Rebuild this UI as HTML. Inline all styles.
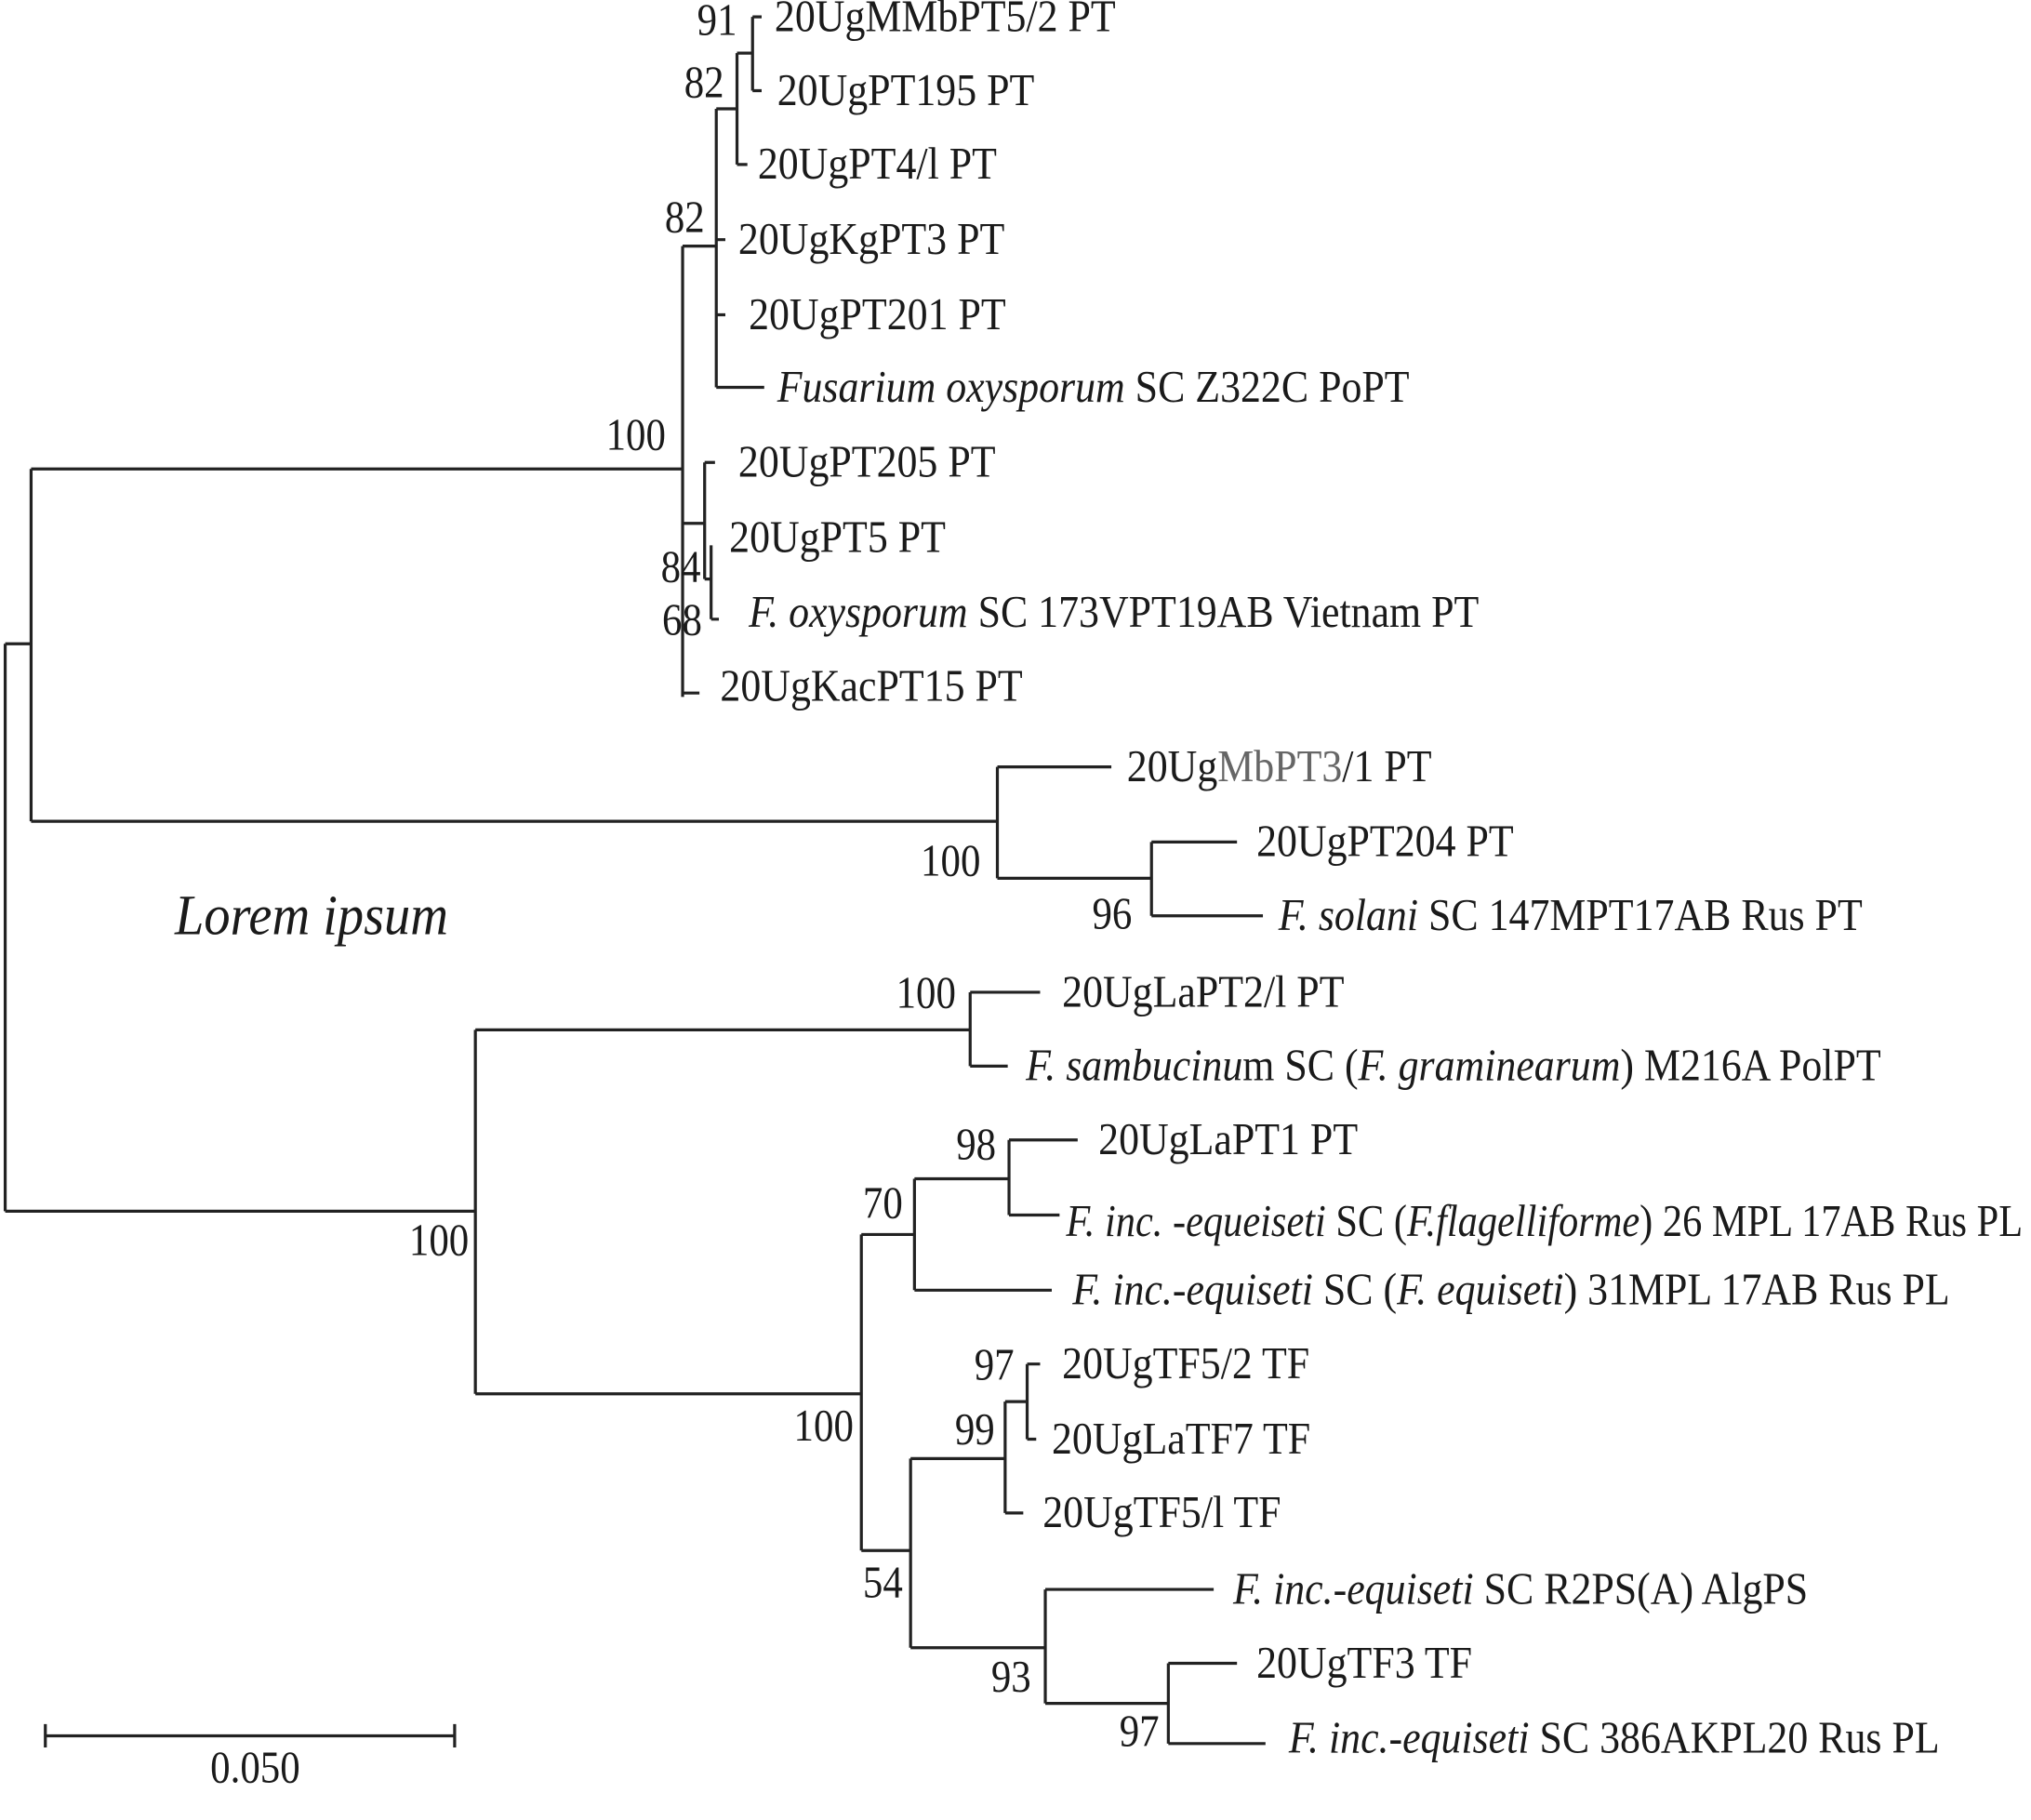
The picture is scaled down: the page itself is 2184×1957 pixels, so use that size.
<!DOCTYPE html>
<html><head><meta charset="utf-8"><style>
html,body{margin:0;padding:0;background:#fff;}
svg{display:block;}
text{font-family:"Liberation Serif",serif;font-size:35px;fill:#1a1a1a;}
.i{font-style:italic;}
</style></head><body>
<svg width="2184" height="1957" viewBox="0 0 1568 1405" preserveAspectRatio="none" xmlns="http://www.w3.org/2000/svg">
<g stroke="#222" stroke-width="2.3" fill="none">
<path d="M4 497V935M4 497H24M24 362V634M4 935H367"/>
<path d="M24 362H527M527 190V538M527 190H553M553 84V299M553 84H569M569 41V127M569 41H581M581 13V70M581 13H588M581 70H588M569 127H577M553 185H560M553 243H560M553 299H590"/>
<path d="M527 404H544M544 357V447M544 357H552M544 447H549M549 421V478M549 478H555M527 535H540"/>
<path d="M24 634H770M770 592V678M770 592H858M770 678H889M889 650V707M889 650H955M889 707H975"/>
<path d="M367 795V1076M367 795H749M749 766V823M749 766H803M749 823H778"/>
<path d="M367 1076H665M665 953V1197M665 953H706M706 910V996M706 910H779M779 880V938M779 880H832M779 938H818M706 996H812"/>
<path d="M665 1197H703M703 1126V1272M703 1126H776M776 1082V1168M776 1082H793M793 1053V1111M793 1053H803M793 1111H800M776 1168H790"/>
<path d="M703 1272H807M807 1227V1315M807 1227H937M807 1315H902M902 1284V1346M902 1284H955M902 1346H977"/>
<path d="M35 1340H351M35 1331V1349M351 1331V1349"/>
</g>
<g>
<text transform="translate(598 24) scale(.9 1)">20UgMMbPT5/2 PT</text>
<text transform="translate(600 81) scale(.9 1)">20UgPT195 PT</text>
<text transform="translate(585 138) scale(.9 1)">20UgPT4/l PT</text>
<text transform="translate(570 196) scale(.9 1)">20UgKgPT3 PT</text>
<text transform="translate(578 254) scale(.9 1)">20UgPT201 PT</text>
<text transform="translate(600 310) scale(.9 1)"><tspan class="i">Fusarium oxysporum</tspan> SC Z322C PoPT</text>
<text transform="translate(570 368) scale(.9 1)">20UgPT205 PT</text>
<text transform="translate(563 426) scale(.9 1)">20UgPT5 PT</text>
<text transform="translate(578 484) scale(.9 1)"><tspan class="i">F. oxysporum</tspan> SC 173VPT19AB Vietnam PT</text>
<text transform="translate(556 541) scale(.9 1)">20UgKacPT15 PT</text>
<text transform="translate(870 603) scale(.9 1)">20Ug<tspan fill="#666">MbPT3</tspan>/1 PT</text>
<text transform="translate(970 661) scale(.9 1)">20UgPT204 PT</text>
<text transform="translate(987 718) scale(.9 1)"><tspan class="i">F. solani</tspan> SC 147MPT17AB Rus PT</text>
<text transform="translate(820 777) scale(.9 1)">20UgLaPT2/l PT</text>
<text transform="translate(792 834) scale(.9 1)"><tspan class="i">F.  sambucinu</tspan>m SC (<tspan class="i">F. graminearum</tspan>) M216A  PolPT</text>
<text transform="translate(848 891) scale(.9 1)">20UgLaPT1 PT</text>
<text transform="translate(823 954) scale(.87 1)"><tspan class="i">F. inc. -equeiseti</tspan> SC (<tspan class="i">F.flagelliforme</tspan>) 26 MPL 17AB Rus PL</text>
<text transform="translate(828 1007) scale(.9 1)"><tspan class="i">F. inc.-equiseti</tspan> SC (<tspan class="i">F. equiseti</tspan>) 31MPL  17AB  Rus PL</text>
<text transform="translate(820 1064) scale(.9 1)">20UgTF5/2 TF</text>
<text transform="translate(812 1122) scale(.9 1)">20UgLaTF7 TF</text>
<text transform="translate(805 1179) scale(.9 1)">20UgTF5/l TF</text>
<text transform="translate(952 1238) scale(.9 1)"><tspan class="i">F. inc.-equiseti</tspan>  SC R2PS(A) AlgPS</text>
<text transform="translate(970 1295) scale(.9 1)">20UgTF3 TF</text>
<text transform="translate(995 1353) scale(.9 1)"><tspan class="i">F.  inc.-equiseti</tspan> SC 386AKPL20 Rus PL</text>
</g>
<g text-anchor="end">
<text transform="translate(569 27) scale(.88 1)">91</text>
<text transform="translate(559 75) scale(.88 1)">82</text>
<text transform="translate(544 179) scale(.88 1)">82</text>
<text transform="translate(514 347) scale(.88 1)">100</text>
<text transform="translate(541 449) scale(.88 1)">84</text>
<text transform="translate(542 490) scale(.88 1)">68</text>
<text transform="translate(757 676) scale(.88 1)">100</text>
<text transform="translate(874 717) scale(.88 1)">96</text>
<text transform="translate(738 778) scale(.88 1)">100</text>
<text transform="translate(362 969) scale(.88 1)">100</text>
<text transform="translate(769 895) scale(.88 1)">98</text>
<text transform="translate(697 940) scale(.88 1)">70</text>
<text transform="translate(659 1112) scale(.88 1)">100</text>
<text transform="translate(783 1065) scale(.88 1)">97</text>
<text transform="translate(768 1115) scale(.88 1)">99</text>
<text transform="translate(697 1233) scale(.88 1)">54</text>
<text transform="translate(796 1306) scale(.88 1)">93</text>
<text transform="translate(895 1348) scale(.88 1)">97</text>
</g>
<text transform="translate(197 1376) scale(.88 1)" text-anchor="middle">0.050</text>
<text transform="translate(135 721) scale(.92 1)" class="i" style="font-size:44px">Lorem ipsum</text>
</svg>
</body></html>
